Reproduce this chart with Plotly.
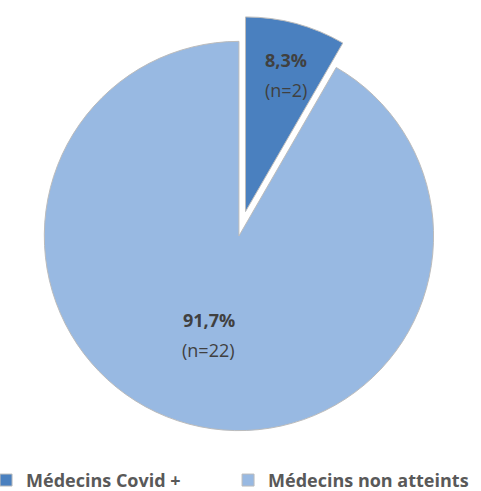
import math
import plotly.graph_objects as go

labels = ["Médecins Covid +", "Médecins non atteints"]
counts = [2, 22]
pct_labels = ["8,3%", "91,7%"]
colors = ["#4a80bf", "#98b9e2"]
pulls = [0.13, 0]
label_radius = [0.80, 0.60]  # label distance from the centre, as a fraction of the radius

W, H = 481, 491
dom_x = [0.0395, 0.954]
dom_y = [0.0713, 0.9674]

fig = go.Figure(
    go.Pie(
        labels=labels,
        values=counts,
        textinfo="none",
        sort=False,
        direction="clockwise",
        rotation=0,
        pull=pulls,
        marker=dict(colors=colors, line=dict(color="#bcbcbc", width=1)),
        hoverinfo="label+value+percent",
        domain=dict(x=dom_x, y=dom_y),
    )
)

# Pie geometry (same rules plotly uses to size a pie inside its domain)
cx = (dom_x[0] + dom_x[1]) / 2
cy = (dom_y[0] + dom_y[1]) / 2
size_px = min((dom_x[1] - dom_x[0]) * W, (dom_y[1] - dom_y[0]) * H)
r_px = size_px / 2 / (1 + max(pulls))

total = sum(counts)
start = 0.0
label_font = dict(family="Open Sans, Arial, sans-serif", size=18, color="#404040")
for n, pct, pull, lr in zip(counts, pct_labels, pulls, label_radius):
    mid = (start + n / 2) / total * 2 * math.pi
    start += n
    d = (lr + pull) * r_px
    ax = cx + d * math.sin(mid) / W
    ay = cy + d * math.cos(mid) / H
    fig.add_annotation(x=ax, y=ay, xref="paper", yref="paper", text=f"<b>{pct}</b>",
                       showarrow=False, font=label_font, yshift=15)
    fig.add_annotation(x=ax, y=ay, xref="paper", yref="paper", text=f"(n={n})",
                       showarrow=False, font=label_font, yshift=-15)

fig.update_layout(
    width=W,
    height=H,
    margin=dict(l=0, r=0, t=0, b=0, autoexpand=False),
    paper_bgcolor="white",
    plot_bgcolor="white",
    showlegend=True,
    legend=dict(
        orientation="h",
        x=-0.029,
        xanchor="left",
        y=-0.016,
        yanchor="bottom",
        font=dict(family="Open Sans, Arial, sans-serif", size=18, color="#595959", weight="bold"),
        itemwidth=30,
        entrywidth=197,
        traceorder="normal",
    ),
)

fig.write_html("out.html")
